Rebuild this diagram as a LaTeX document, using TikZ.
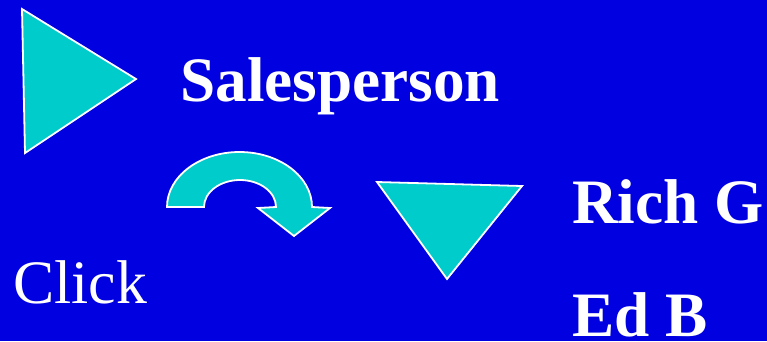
\documentclass[tikz,border=0pt]{standalone}
\usepackage{fontspec}
\setmainfont{Liberation Serif}
\usepackage{tikz}
\usetikzlibrary{positioning}
\definecolor{slideblue}{HTML}{0000E0}
\definecolor{shapecyan}{HTML}{00CCCC}
\tikzset{
  cyanshape/.style={draw=white, line width=1.8pt, fill=shapecyan, line join=miter},
  slidetext/.style={text=white, anchor=base west, inner sep=0pt,
    font=\fontsize{62}{62}\selectfont},
  boldtext/.style={slidetext, font=\fontsize{63.5}{63.5}\selectfont\bfseries}
}
\begin{document}
\begin{tikzpicture}[x=1bp, y=-1bp]
    \fill[slideblue] (0,0) rectangle (767,341);
    \useasboundingbox (0,0) rectangle (767,341);
    % triangles
    \draw[cyanshape] (22,9) -- (136,79) -- (25,153) -- cycle;
    \draw[cyanshape] (377,182) -- (522,186) -- (447,279) -- cycle;
    % curved arrow
    \draw[cyanshape] (167,207) arc[start angle=180, end angle=360, x radius=72.5, y radius=55]
      -- (330,208) -- (294,236) -- (258,208) -- (276,207)
      arc[start angle=360, end angle=180, x radius=36, y radius=27] -- cycle;
    % labels
    \node[boldtext] (sales) at (180,101) {Salesperson};
    \node[boldtext] (rich) at (572,223) {Rich G};
    \node[boldtext] (ed) at (572,336) {Ed B};
    \node[slidetext] (click) at (13,303) {Click};
  \end{tikzpicture}
\end{document}
